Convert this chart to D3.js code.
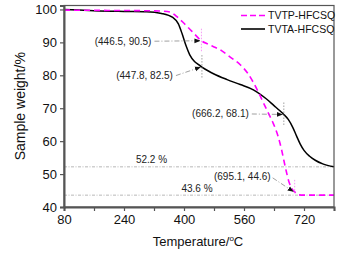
<!DOCTYPE html>
<html>
<head>
<meta charset="utf-8">
<script src="https://cdn.jsdelivr.net/npm/d3@7"></script>
<style>
  html, body { margin: 0; padding: 0; background: #fff; }
  svg { display: block; font-family: "Liberation Sans", Arial, sans-serif; }
</style>
</head>
<body>
<div id="chart"></div>
<script>
// TGA curves: TVTP-HFCSQ vs TVTA-HFCSQ
const tempTVTP = [80, 200, 300, 340, 363, 380, 400, 420, 446.5, 465, 500, 525, 550, 570, 585, 600, 612, 625, 638, 650, 660, 670, 680, 690, 695.1, 705, 720, 800];
const weightTVTP = [99.8, 99.7, 99.6, 99.5, 99.2, 97.9, 95.8, 93.5, 90.5, 89.4, 87.5, 85.4, 83.2, 80.6, 77.8, 74.5, 71.6, 68.5, 65.4, 61.8, 57.5, 52.2, 47.6, 45.2, 44.6, 43.7, 43.6, 43.6];

const tempTVTA = [80, 120, 160, 240, 300, 340, 370, 385, 395, 405, 415, 428, 438, 447.8, 465, 480, 515, 550, 585, 620, 640, 655, 666.2, 678, 690, 700, 710, 720, 735, 750, 770, 800];
const weightTVTA = [100, 99.8, 99.6, 99.4, 99.3, 98.8, 97.6, 95.6, 92.6, 89.1, 86.3, 84.2, 83.3, 82.5, 81.3, 80.4, 78.7, 77.2, 75.6, 72.8, 70.8, 69.3, 68.1, 66.6, 64.2, 61.6, 59.1, 57.2, 55.4, 54.2, 53.1, 52.2];

const seriesNames = ["TVTP-HFCSQ", "TVTA-HFCSQ"];

const xTicks = [80, 160, 240, 320, 400, 480, 560, 640, 720, 800];
const xTickLabels = [80, 240, 400, 560, 720];
const yTicks = [40, 50, 60, 70, 80, 90, 100];

// marked points (temperature, weight) and which series they belong to
const markTemps = [446.5, 447.8, 666.2, 695.1];
const markWeights = [90.5, 82.5, 68.1, 44.6];
const markSeries = ["TVTP-HFCSQ", "TVTA-HFCSQ", "TVTA-HFCSQ", "TVTP-HFCSQ"];

// residual levels
const residualLevels = [52.2, 43.6];

const width = 348;
const height = 254;
const margin = { top: 5.5, right: 14, bottom: 47, left: 64 };

const svg = d3.select("#chart").append("svg")
    .attr("width", width)
    .attr("height", height);

const defs = svg.append("defs");
defs.append("marker")
    .attr("id", "arrow")
    .attr("viewBox", "0 0 10 10")
    .attr("refX", 10)
    .attr("refY", 5)
    .attr("markerWidth", 6)
    .attr("markerHeight", 6)
    .attr("markerUnits", "userSpaceOnUse")
    .attr("orient", "auto")
    .append("path")
    .attr("d", "M0,1 L10,5 L0,9 Z")
    .attr("fill", "#111");

const x = d3.scaleLinear()
    .domain([80, 800])
    .range([margin.left, width - margin.right]);

const y = d3.scaleLinear()
    .domain([40, 101.2])
    .range([height - margin.bottom, margin.top]);

const colors = { "TVTP-HFCSQ": "#ff00ff", "TVTA-HFCSQ": "#000000" };

// residual horizontal reference lines
svg.selectAll("line.residual")
    .data(residualLevels)
    .enter()
    .append("line")
    .attr("class", "residual")
    .attr("x1", x(80))
    .attr("x2", x(800))
    .attr("y1", d => y(d))
    .attr("y2", d => y(d))
    .attr("stroke", "#999")
    .attr("stroke-width", 0.7)
    .attr("stroke-dasharray", "3 1.5 1 1.5");

const residualText = [[151.5, -4], [197, -2.8]];
svg.selectAll("text.residual")
    .data(residualLevels)
    .enter()
    .append("text")
    .attr("class", "residual")
    .attr("x", (d, i) => residualText[i][0])
    .attr("y", (d, i) => y(d) + residualText[i][1])
    .attr("text-anchor", "middle")
    .style("font-size", "10px")
    .style("fill", "#222")
    .text(d => d + " %");

// series
const lineGen = d3.line()
    .x(d => x(d[0]))
    .y(d => y(d[1]))
    .curve(d3.curveMonotoneX);

const tvta = tempTVTA.map((t, i) => [t, weightTVTA[i]]);
const tvtp = tempTVTP.map((t, i) => [t, weightTVTP[i]]);

svg.append("path")
    .datum(tvta)
    .attr("fill", "none")
    .attr("stroke", colors["TVTA-HFCSQ"])
    .attr("stroke-width", 1.5)
    .attr("d", lineGen);

svg.append("path")
    .datum(tvtp)
    .attr("fill", "none")
    .attr("stroke", colors["TVTP-HFCSQ"])
    .attr("stroke-width", 1.6)
    .attr("stroke-dasharray", "6 4")
    .attr("d", lineGen);

// vertical crosshair marks at the labelled points
svg.selectAll("line.cross")
    .data(markTemps)
    .enter()
    .append("line")
    .attr("class", "cross")
    .attr("x1", d => x(d))
    .attr("x2", d => x(d))
    .attr("y1", (d, i) => y(markWeights[i]) - 12)
    .attr("y2", (d, i) => y(markWeights[i]) + (i === 3 ? 3 : 11))
    .attr("stroke", (d, i) => markSeries[i] === "TVTP-HFCSQ" ? "#f070f0" : "#777")
    .attr("stroke-width", 0.7)
    .attr("stroke-dasharray", "1.5 1.5");

// annotation labels with arrows: [dx, dy] of label end relative to point
const labelOffsets = [[-50, 4.5], [-29, 11.5], [-35, 3], [-24, -12]];
const arrowStart = [[-47, 0.5], [-26, 8.5], [-32, -0.5], [-22, -14]];

const ann = svg.selectAll("g.ann")
    .data(markTemps)
    .enter()
    .append("g")
    .attr("class", "ann");

ann.append("line")
    .attr("x1", (d, i) => x(d) + arrowStart[i][0])
    .attr("y1", (d, i) => y(markWeights[i]) + arrowStart[i][1])
    .attr("x2", (d, i) => x(d) - 1)
    .attr("y2", (d, i) => y(markWeights[i]))
    .attr("stroke", "#888")
    .attr("stroke-width", 0.8)
    .attr("stroke-dasharray", "5 2 1 2")
    .attr("marker-end", "url(#arrow)");

ann.append("text")
    .attr("x", (d, i) => x(d) + labelOffsets[i][0])
    .attr("y", (d, i) => y(markWeights[i]) + labelOffsets[i][1])
    .attr("text-anchor", "end")
    .style("font-size", "10px")
    .style("fill", "#222")
    .text((d, i) => `(${d}, ${markWeights[i]})`);

// frame
const frameColor = "#555";
svg.append("rect")
    .attr("x", x(80))
    .attr("y", margin.top)
    .attr("width", x(800) - x(80))
    .attr("height", y(40) - margin.top)
    .attr("fill", "none")
    .attr("stroke", frameColor)
    .attr("stroke-width", 1.2);

// axes
const xAxis = svg.append("g")
    .attr("transform", `translate(0,${y(40)})`)
    .call(d3.axisBottom(x)
        .tickValues(xTicks)
        .tickSize(4)
        .tickPadding(4)
        .tickFormat(d => xTickLabels.includes(d) ? d : ""));

const yAxis = svg.append("g")
    .attr("transform", `translate(${x(80)},0)`)
    .call(d3.axisLeft(y)
        .tickValues(yTicks)
        .tickSize(4)
        .tickPadding(3));

[xAxis, yAxis].forEach(ax => {
    ax.select(".domain").attr("stroke", frameColor).attr("stroke-width", 2);
    ax.selectAll(".tick line").attr("stroke", frameColor).attr("stroke-width", 1.2);
    ax.selectAll(".tick text")
        .style("font-family", "'Liberation Sans', Arial, sans-serif")
        .style("font-size", "13px")
        .style("fill", "#111");
});

// axis titles
const xTitle = svg.append("text")
    .attr("x", 198)
    .attr("y", 245.5)
    .attr("text-anchor", "middle")
    .style("font-size", "13px")
    .style("fill", "#111");
xTitle.append("tspan").text("Temperature/");
xTitle.append("tspan").attr("dy", -5).style("font-size", "8px").text("o");
xTitle.append("tspan").attr("dy", 5).text("C");

svg.append("text")
    .attr("transform", "rotate(-90)")
    .attr("x", -(margin.top + y(40)) / 2)
    .attr("y", 25)
    .attr("text-anchor", "middle")
    .style("font-size", "14px")
    .style("fill", "#111")
    .text("Sample weight/%");

// legend
const legend = svg.append("g")
    .attr("transform", "translate(241,15.5)");

seriesNames.forEach((name, i) => {
    const g = legend.append("g").attr("transform", `translate(0,${i * 13.5})`);
    g.append("line")
        .attr("x1", 0)
        .attr("x2", 24)
        .attr("y1", 0)
        .attr("y2", 0)
        .attr("stroke", colors[name])
        .attr("stroke-width", 1.6)
        .attr("stroke-dasharray", name === "TVTP-HFCSQ" ? "6 3" : null);
    g.append("text")
        .attr("x", 27)
        .attr("y", 3.8)
        .style("font-size", "10.5px")
        .style("fill", "#111")
        .text(name);
});
</script>
</body>
</html>
